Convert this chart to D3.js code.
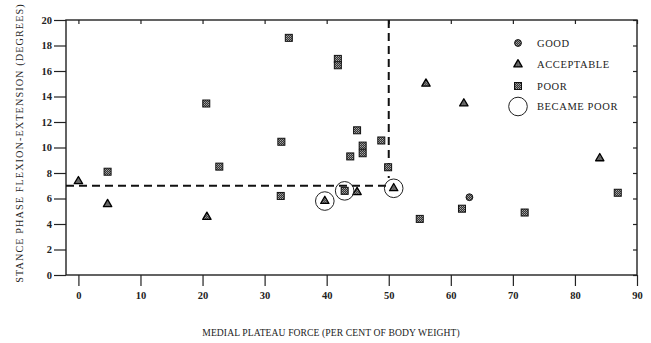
<!DOCTYPE html>
<html>
<head>
<meta charset="utf-8">
<script src="https://cdn.jsdelivr.net/npm/d3@7"></script>
<style>
  html, body { margin: 0; padding: 0; background: #fff; }
  svg { display: block; font-family: "Liberation Serif", "DejaVu Serif", serif; }
</style>
</head>
<body>
<svg id="chart" width="651" height="343"></svg>
<script>
// Medial plateau force vs stance phase flexion-extension, by outcome
const goodX = [63];
const goodY = [6.1];

const acceptableX = [0, 4.7, 20.7, 39.7, 44.9, 50.8, 56, 62.1, 84];
const acceptableY = [7.35, 5.55, 4.55, 5.8, 6.5, 6.8, 15.0, 13.45, 9.15];

const poorX = [4.7, 20.6, 22.7, 33.9, 32.7, 32.6, 41.8, 41.8, 44.9, 45.8, 45.8, 43.8, 48.8, 49.9, 42.9, 55, 61.8, 71.9, 86.9];
const poorY = [8.1, 13.45, 8.5, 18.6, 10.45, 6.2, 16.95, 16.45, 11.35, 10.15, 9.55, 9.3, 10.55, 8.45, 6.6, 4.4, 5.2, 4.9, 6.45];

// Cases that became poor (ringed)
const becamePoorX = [39.7, 42.9, 50.8];
const becamePoorY = [5.8, 6.6, 6.8];

// Threshold lines
const forceThreshold = 50;
const angleThreshold = 7;

const xTicks = [0, 10, 20, 30, 40, 50, 60, 70, 80, 90];
const yTicks = [0, 2, 4, 6, 8, 10, 12, 14, 16, 18, 20];

const legendLabels = ["GOOD", "ACCEPTABLE", "POOR", "BECAME POOR"];

const svg = d3.select("#chart");
const plotL = 66, plotR = 637, plotT = 20, plotB = 275;

const x = d3.scaleLinear().domain([-2, 90]).range([plotL, plotR]);
const y = d3.scaleLinear().domain([0, 20]).range([plotB, plotT]);

// Stippled fill used for all markers
const defs = svg.append("defs");
const pat = defs.append("pattern")
  .attr("id", "stipple").attr("width", 2).attr("height", 2)
  .attr("patternUnits", "userSpaceOnUse");
pat.append("rect").attr("width", 2).attr("height", 2).attr("fill", "#333");
pat.append("rect").attr("width", 1).attr("height", 1).attr("fill", "#aaa");
pat.append("rect").attr("x", 1).attr("y", 1).attr("width", 1).attr("height", 1).attr("fill", "#888");

// Frame
svg.append("rect")
  .attr("x", plotL).attr("y", plotT)
  .attr("width", plotR - plotL).attr("height", plotB - plotT)
  .attr("fill", "none").attr("stroke", "#222").attr("stroke-width", 1.4);

// Bottom axis (outward ticks)
const xAxis = d3.axisBottom(x).tickValues(xTicks).tickSize(11).tickPadding(6).tickFormat(d3.format("d"));
const gx = svg.append("g").attr("transform", `translate(0,${plotB})`).call(xAxis);
gx.select(".domain").remove();
gx.selectAll("line").attr("stroke", "#222").attr("stroke-width", 1.2);
gx.selectAll("text").attr("font-size", 10.5).attr("font-weight", "bold")
  .attr("font-family", "Liberation Serif, serif").attr("fill", "#222");

// Left axis (outward ticks)
const yAxis = d3.axisLeft(y).tickValues(yTicks).tickSize(12).tickPadding(2).tickFormat(d3.format("d"));
const gy = svg.append("g").attr("transform", `translate(${plotL},0)`).call(yAxis);
gy.select(".domain").remove();
gy.selectAll("line").attr("stroke", "#222").attr("stroke-width", 1.2);
gy.selectAll("text").attr("font-size", 10.5).attr("font-weight", "bold")
  .attr("font-family", "Liberation Serif, serif").attr("fill", "#222");

// Top and right inner ticks
const gt = svg.append("g").attr("transform", `translate(0,${plotT})`)
  .call(d3.axisTop(x).tickValues(xTicks).tickSize(-4).tickFormat(""));
gt.select(".domain").remove();
gt.selectAll("line").attr("stroke", "#222").attr("stroke-width", 1.2);
const gr = svg.append("g").attr("transform", `translate(${plotR},0)`)
  .call(d3.axisRight(y).tickValues(yTicks).tickSize(-4).tickFormat(""));
gr.select(".domain").remove();
gr.selectAll("line").attr("stroke", "#222").attr("stroke-width", 1.2);

// Dashed threshold lines
svg.append("line")
  .attr("x1", x(-2)).attr("x2", x(forceThreshold))
  .attr("y1", y(angleThreshold)).attr("y2", y(angleThreshold))
  .attr("stroke", "#111").attr("stroke-width", 2).attr("stroke-dasharray", "8,5");
svg.append("line")
  .attr("x1", x(forceThreshold)).attr("x2", x(forceThreshold))
  .attr("y1", y(20)).attr("y2", y(angleThreshold + 0.6))
  .attr("stroke", "#111").attr("stroke-width", 2).attr("stroke-dasharray", "8,5");

// Marker drawing helpers
const sqSize = 7, triSize = 30, dotR = 3.4;
function drawSquares(g, xs, ys) {
  g.selectAll(null).data(d3.zip(xs, ys)).join("rect")
    .attr("x", d => x(d[0]) - sqSize / 2).attr("y", d => y(d[1]) - sqSize / 2)
    .attr("width", sqSize).attr("height", sqSize)
    .attr("fill", "url(#stipple)").attr("stroke", "#111").attr("stroke-width", 1);
}
function drawTriangles(g, xs, ys) {
  g.selectAll(null).data(d3.zip(xs, ys)).join("path")
    .attr("transform", d => `translate(${x(d[0])},${y(d[1])})`)
    .attr("d", d3.symbol(d3.symbolTriangle, triSize)())
    .attr("fill", "url(#stipple)").attr("stroke", "#000").attr("stroke-width", 1.3)
    .attr("stroke-linejoin", "round");
}
function drawDots(g, xs, ys) {
  g.selectAll(null).data(d3.zip(xs, ys)).join("circle")
    .attr("cx", d => x(d[0])).attr("cy", d => y(d[1])).attr("r", dotR)
    .attr("fill", "url(#stipple)").attr("stroke", "#111").attr("stroke-width", 1);
}

const marks = svg.append("g");
drawSquares(marks, poorX, poorY);
drawTriangles(marks, acceptableX, acceptableY);
drawDots(marks, goodX, goodY);
marks.selectAll(null).data(d3.zip(becamePoorX, becamePoorY)).join("circle")
  .attr("cx", d => x(d[0])).attr("cy", d => y(d[1])).attr("r", 9.3)
  .attr("fill", "none").attr("stroke", "#222").attr("stroke-width", 1);

// Legend
const lg = svg.append("g");
const legX = 518, legTextX = 537, legY = [43, 64.5, 86, 106.5];
drawDots(lg, [x.invert(legX)], [y.invert(legY[0])]);
drawTriangles(lg, [x.invert(legX)], [y.invert(legY[1])]);
drawSquares(lg, [x.invert(legX)], [y.invert(legY[2])]);
lg.append("circle").attr("cx", legX).attr("cy", legY[3]).attr("r", 9.3)
  .attr("fill", "none").attr("stroke", "#222").attr("stroke-width", 1);
lg.selectAll("text").data(legendLabels).join("text")
  .attr("x", legTextX).attr("y", (d, i) => legY[i] + 3.8)
  .attr("font-size", 10.5).attr("letter-spacing", 0.6).attr("fill", "#222")
  .text(d => d);

// Axis titles
svg.append("text")
  .attr("x", 331).attr("y", 336).attr("text-anchor", "middle")
  .attr("font-size", 9.6).attr("letter-spacing", 0.1).attr("fill", "#222")
  .text("MEDIAL PLATEAU FORCE (PER CENT OF BODY WEIGHT)");
svg.append("text")
  .attr("transform", "translate(23,143) rotate(-90)")
  .attr("text-anchor", "middle")
  .attr("font-size", 10.2).attr("letter-spacing", 1.1).attr("fill", "#222")
  .text("STANCE PHASE FLEXION-EXTENSION (DEGREES)");
</script>
</body>
</html>
